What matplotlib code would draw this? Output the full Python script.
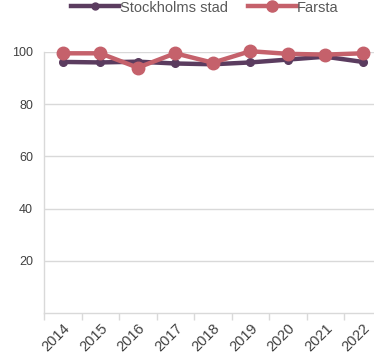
import matplotlib
matplotlib.use("Agg")
import matplotlib.pyplot as plt
from matplotlib.lines import Line2D

years = ["2014", "2015", "2016", "2017", "2018", "2019", "2020", "2021", "2022"]
stockholm = [96.2, 96.0, 96.3, 95.6, 95.3, 96.0, 97.1, 98.2, 96.2]
farsta = [99.5, 99.5, 94.0, 99.5, 95.9, 100.3, 99.3, 99.0, 99.5]

c_sthlm = "#5b3c5f"
c_farsta = "#c5616b"
grid_c = "#d9d9d9"
text_c = "#404040"

plt.rcParams["font.family"] = ["Liberation Sans", "DejaVu Sans"]

fig = plt.figure(figsize=(3.74, 3.59), dpi=100)
ax = fig.add_axes([44 / 374, 1 - 313 / 359, 337.5 / 374, 261 / 359])

x = list(range(len(years)))
ax.plot(x, stockholm, color=c_sthlm, lw=3.2, marker="o", ms=5.5,
        solid_capstyle="round", clip_on=False, zorder=3)
ax.plot(x, farsta, color=c_farsta, lw=3.2, marker="o", ms=9,
        solid_capstyle="round", clip_on=False, zorder=4)

ax.set_xlim(-0.5, len(years) - 0.5)
ax.set_ylim(0, 100)
ax.set_yticks([20, 40, 60, 80, 100])
ax.yaxis.grid(True, color=grid_c, lw=1)
ax.set_axisbelow(True)
ax.tick_params(axis="y", length=0, pad=8, labelsize=9, labelcolor=text_c)

# category ticks sit between the years, labels at the centres
ax.set_xticks([i - 0.5 for i in range(len(years) + 1)])
ax.set_xticklabels([])
ax.set_xticks(x, minor=True)
ax.set_xticklabels(years, minor=True, rotation=45, ha="right",
                   rotation_mode="anchor", fontsize=10.5, color=text_c)
ax.tick_params(axis="x", which="major", length=5, color=grid_c, width=1)
ax.tick_params(axis="x", which="minor", length=0, pad=6)

for side in ["top", "right"]:
    ax.spines[side].set_visible(False)
for side in ["left", "bottom"]:
    ax.spines[side].set_color(grid_c)
    ax.spines[side].set_linewidth(1)

handles = [
    Line2D([], [], color=c_sthlm, lw=3.2, marker="o", ms=5),
    Line2D([], [], color=c_farsta, lw=3.2, marker="o", ms=8),
]
fig.legend(handles, ["Stockholms stad", "Farsta"], loc="upper center",
           bbox_to_anchor=(205 / 374, 1.035), ncol=2, frameon=False,
           handlelength=3.3, handletextpad=0.05, columnspacing=1.4,
           fontsize=10.5, labelcolor="#595959")

fig.savefig("out.png", dpi=100)
